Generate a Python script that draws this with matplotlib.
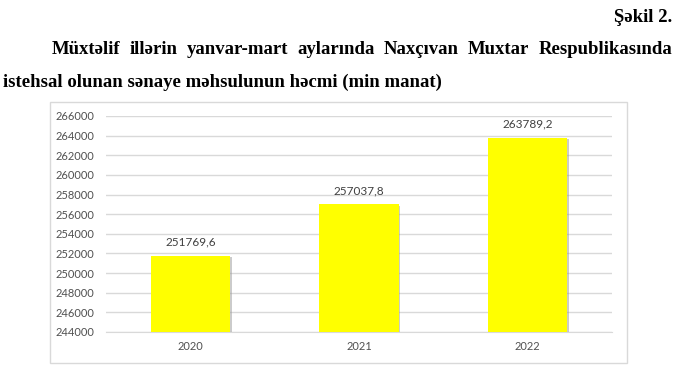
import matplotlib.pyplot as plt
from matplotlib.patches import Rectangle
import matplotlib.patheffects as pe

# data
years = ['2020', '2021', '2022']
values = [251769.6, 257037.8, 263789.2]
value_labels = ['251769,6', '257037,8', '263789,2']
yticks = list(range(244000, 266001, 2000))

fig_title = 'Şəkil 2.'
line1_words = ['Müxtəlif', 'illərin', 'yanvar-mart', 'aylarında', 'Naxçıvan', 'Muxtar', 'Respublikasında']
line2 = 'istehsal olunan sənaye məhsulunun həcmi (min manat)'

W, H = 687, 381
fig = plt.figure(figsize=(W / 100, H / 100), dpi=100)
fig.patch.set_facecolor('white')

serif = {'family': 'Liberation Serif', 'weight': 'bold', 'size': 13.5, 'color': 'black'}

fig.text(672 / W, 1 - 18 / H, fig_title, ha='right', va='center', **serif)

# justified first line
fig.canvas.draw()
r = fig.canvas.get_renderer()
x0, x1 = 52, 672
texts = [fig.text(0, 1 - 50 / H, w, ha='left', va='center', **serif) for w in line1_words]
widths = [t.get_window_extent(r).width for t in texts]
gap = (x1 - x0 - sum(widths)) / (len(texts) - 1)
x = x0
for t, w in zip(texts, widths):
    t.set_x(x / W)
    x += w + gap

fig.text(3 / W, 1 - 82 / H, line2, ha='left', va='center', **serif)

# chart frame
fig.patches.append(Rectangle((50 / W, 1 - 363 / H), 577 / W, 261 / H, transform=fig.transFigure,
                             fill=False, edgecolor='#d9d9d9', linewidth=1))

ax = fig.add_axes([106 / W, 1 - 332 / H, 506 / W, 216 / H])
bars = ax.bar(range(len(years)), [v - 244000 for v in values], bottom=244000, width=0.47,
              color='#ffff00', zorder=3)
for b in bars:
    b.set_path_effects([pe.SimplePatchShadow(offset=(1.2, -1.2), shadow_rgbFace='#999999', alpha=0.5),
                        pe.Normal()])

ax.set_xlim(-0.5, 2.5)
ax.set_ylim(244000, 266000)
ax.set_yticks(yticks)
ax.set_yticklabels([str(t) for t in yticks])
ax.set_xticks(range(len(years)))
ax.set_xticklabels(years)
ax.grid(axis='y', color='#d9d9d9', linewidth=1, zorder=0)
for s in ['top', 'right', 'left']:
    ax.spines[s].set_visible(False)
ax.spines['bottom'].set_color('#d9d9d9')
ax.tick_params(length=0, labelcolor='#505050', labelsize=8)
ax.tick_params(axis='y', pad=8.5)
ax.tick_params(axis='x', pad=6.5)
for lbl in ax.get_xticklabels() + ax.get_yticklabels():
    lbl.set_family('Lato')

for i, (v, s) in enumerate(zip(values, value_labels)):
    ax.annotate(s, (i, v), xytext=(0, 8), textcoords='offset pixels', ha='center', va='bottom',
                fontsize=8.5, color='#404040', family='Lato')

fig.savefig('out.png', dpi=100)
